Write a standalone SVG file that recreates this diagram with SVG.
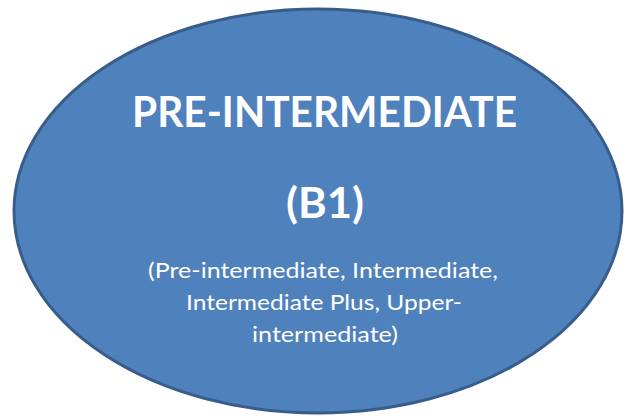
<svg xmlns="http://www.w3.org/2000/svg" width="626" height="416" viewBox="0 0 626 416">
  <style>
    .shape { fill: #4f81bd; stroke: #385d8a; stroke-width: 3; }
    .title { font-family: Lato, "Open Sans", "Liberation Sans", sans-serif; font-weight: bold; font-size: 42px; fill: #ffffff; text-anchor: middle; }
    .sub { font-family: Lato, "Open Sans", "Liberation Sans", sans-serif; font-size: 22px; fill: #ffffff; text-anchor: middle; }
  </style>
  <rect width="626" height="416" fill="#ffffff"/>
  <g id="node-b1">
    <ellipse class="shape" cx="318" cy="211" rx="304" ry="202"/>
    <text class="title" x="324.5" y="127" textLength="385" lengthAdjust="spacingAndGlyphs">PRE-INTERMEDIATE</text>
    <text class="title" x="325" y="218" textLength="78" lengthAdjust="spacingAndGlyphs">(B1)</text>
    <text class="sub" x="323" y="278" textLength="350" lengthAdjust="spacingAndGlyphs">(Pre-intermediate, Intermediate,</text>
    <text class="sub" x="324" y="310" textLength="276" lengthAdjust="spacingAndGlyphs">Intermediate Plus, Upper-</text>
    <text class="sub" x="325" y="342" textLength="146" lengthAdjust="spacingAndGlyphs">intermediate)</text>
  </g>
  <g id="connectors"></g>
</svg>
